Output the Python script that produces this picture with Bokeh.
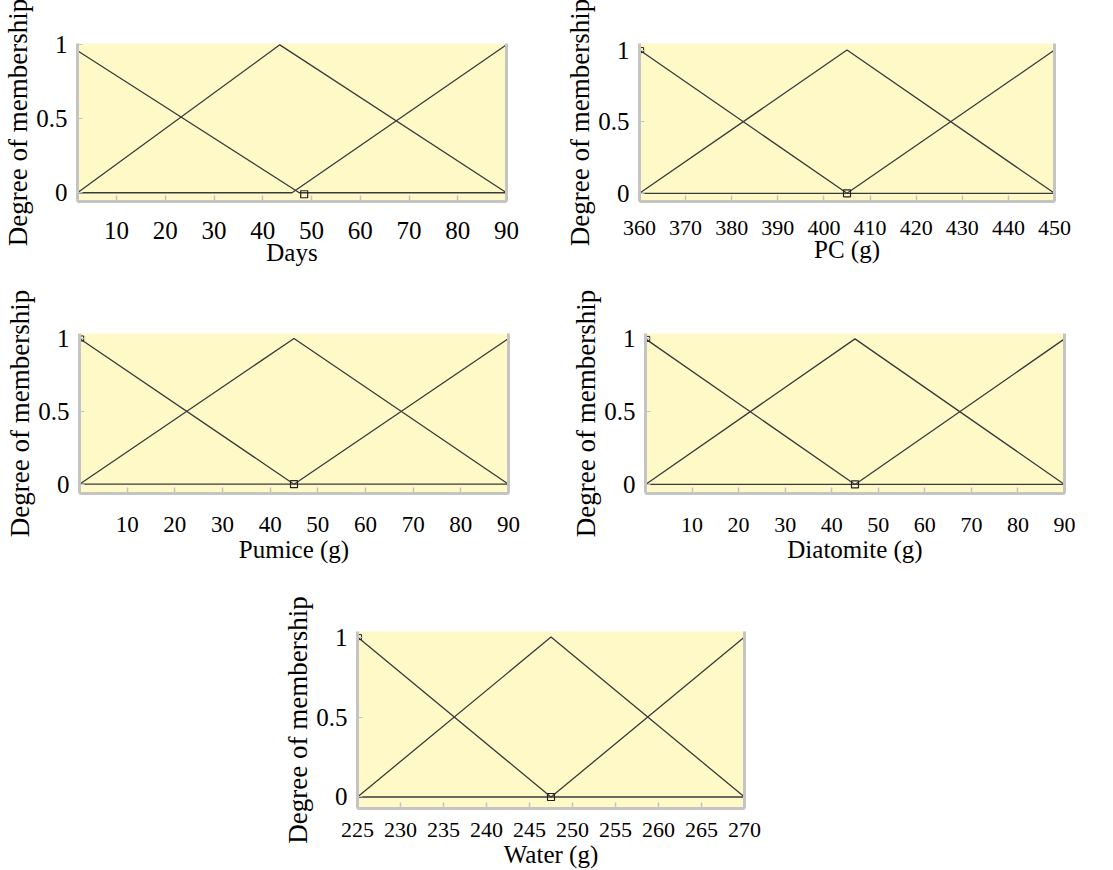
from bokeh.plotting import figure
from bokeh.models import Range1d, FixedTicker, LinearAxis, Spacer
from bokeh.layouts import column, row
from bokeh.embed import file_html
from bokeh.resources import INLINE

# ---------------- data ----------------
days_ticks = [10, 20, 30, 40, 50, 60, 70, 80, 90]
days_low_x = [2, 47.5, 90]
days_low_y = [0.96, 0, 0]
days_mid_x = [2, 43.5, 90]
days_mid_y = [0, 1, 0]
days_high_x = [2, 46, 90]
days_high_y = [0, 0, 1]
days_mark_x = [48.5]
days_mark_y = [-0.01]

pc_ticks = [360, 370, 380, 390, 400, 410, 420, 430, 440, 450]
pc_low_x = [360, 405, 450]
pc_low_y = [1, 0, 0]
pc_mid_x = [360, 405, 450]
pc_mid_y = [0, 1, 0]
pc_high_x = [360, 405, 450]
pc_high_y = [0, 0, 1]
pc_mark_x = [405]
pc_mark_y = [0]

pum_ticks = [10, 20, 30, 40, 50, 60, 70, 80, 90]
pum_low_x = [0, 45, 90]
pum_low_y = [1, 0, 0]
pum_mid_x = [0, 45, 90]
pum_mid_y = [0, 1, 0]
pum_high_x = [0, 45, 90]
pum_high_y = [0, 0, 1]
pum_mark_x = [45]
pum_mark_y = [0]

dia_ticks = [10, 20, 30, 40, 50, 60, 70, 80, 90]
dia_low_x = [0, 45, 90]
dia_low_y = [1, 0, 0]
dia_mid_x = [0, 45, 90]
dia_mid_y = [0, 1, 0]
dia_high_x = [0, 45, 90]
dia_high_y = [0, 0, 1]
dia_mark_x = [45]
dia_mark_y = [0]

wat_ticks = [225, 230, 235, 240, 245, 250, 255, 260, 265, 270]
wat_low_x = [225, 247.5, 270]
wat_low_y = [1, 0, 0]
wat_mid_x = [225, 247.5, 270]
wat_mid_y = [0, 1, 0]
wat_high_x = [225, 247.5, 270]
wat_high_y = [0, 0, 1]
wat_mark_x = [247.5]
wat_mark_y = [0]

y_ticks = [0, 0.5, 1]
y_labels = {0: "0", 0.5: "0.5", 1: "1"}

# ---------------- styling ----------------
FONT = "Liberation Serif"
BG = "#fff9c8"
GRAY = "#c4c4c4"
LINE = "#3a3a3a"


def make(xr, yr, xticks, xlabel, series, mark, corner, w, h, bl, br, bt, bb,
         xfs, xstand, xals, yals):
    p = figure(width=w, height=h, output_backend="svg", toolbar_location=None,
               x_range=Range1d(*xr), y_range=Range1d(*yr),
               min_border_left=bl, min_border_right=br,
               min_border_top=bt, min_border_bottom=bb)
    p.background_fill_color = BG
    p.border_fill_color = "white"
    p.outline_line_color = None
    p.grid.visible = False

    xa = p.xaxis[0]
    xa.ticker = FixedTicker(ticks=xticks)
    xa.axis_label = xlabel
    xa.axis_line_color = GRAY
    xa.axis_line_width = 3
    xa.major_tick_in = 6
    xa.major_tick_out = 0
    xa.major_tick_line_color = GRAY
    xa.major_tick_line_width = 1.5
    xa.minor_tick_line_color = None
    xa.major_label_text_font = FONT
    xa.major_label_text_font_size = f"{xfs}px"
    xa.major_label_text_color = "black"
    xa.major_label_standoff = xstand
    xa.axis_label_text_font = FONT
    xa.axis_label_text_font_size = "25px"
    xa.axis_label_text_font_style = "normal"
    xa.axis_label_text_color = "black"
    xa.axis_label_standoff = xals

    ya = p.yaxis[0]
    ya.ticker = FixedTicker(ticks=y_ticks)
    ya.major_label_overrides = y_labels
    ya.axis_label = "Degree of membership"
    ya.axis_line_color = GRAY
    ya.axis_line_width = 3
    ya.major_tick_in = 5
    ya.major_tick_out = 0
    ya.major_tick_line_color = GRAY
    ya.minor_tick_line_color = None
    ya.major_label_text_font = FONT
    ya.major_label_text_font_size = "25px"
    ya.major_label_text_color = "black"
    ya.major_label_standoff = 10
    ya.axis_label_text_font = FONT
    ya.axis_label_text_font_size = "27px"
    ya.axis_label_text_font_style = "normal"
    ya.axis_label_text_color = "black"
    ya.axis_label_standoff = yals

    ra = LinearAxis(ticker=FixedTicker(ticks=[]),
                    axis_line_color=GRAY, axis_line_width=3,
                    major_tick_in=0, major_tick_out=0, major_tick_line_color=None,
                    minor_tick_line_color=None, major_label_standoff=0)
    p.add_layout(ra, "right")

    for xs, ys in series:
        p.line(xs, ys, line_color=LINE, line_width=1.3)
    p.scatter(mark[0], mark[1], marker="square", size=7, fill_color=None,
              line_color="#222222", line_width=1.2)
    if corner:
        p.scatter([xr[0] + (xr[1] - xr[0]) * 0.004], [1], marker="square", size=5,
                  fill_color=None, line_color="#222222", line_width=1)
    return p


p1 = make((2, 90), (-0.059, 1.009), days_ticks, "Days",
          [(days_low_x, days_low_y), (days_mid_x, days_mid_y), (days_high_x, days_high_y)],
          (days_mark_x, days_mark_y), False,
          560, 273, 77, 54, 43, 72, 25, 20, -3, 0)
p2 = make((360, 450), (-0.057, 1.046), pc_ticks, "PC (g)",
          [(pc_low_x, pc_low_y), (pc_mid_x, pc_mid_y), (pc_high_x, pc_high_y)],
          (pc_mark_x, pc_mark_y), True,
          545, 273, 79, 51, 41, 72, 22, 19, -2, 0)
p3 = make((0, 90), (-0.064, 1.034), pum_ticks, "Pumice (g)",
          [(pum_low_x, pum_low_y), (pum_mid_x, pum_mid_y), (pum_high_x, pum_high_y)],
          (pum_mark_x, pum_mark_y), True,
          560, 292, 79, 52, 60, 72, 23, 23, 1, 0)
p4 = make((0, 90), (-0.062, 1.037), dia_ticks, "Diatomite (g)",
          [(dia_low_x, dia_low_y), (dia_mid_x, dia_mid_y), (dia_high_x, dia_high_y)],
          (dia_mark_x, dia_mark_y), True,
          545, 292, 85, 41, 59, 72, 22, 24, 1, 0)
p5 = make((225, 270), (-0.072, 1.035), wat_ticks, "Water (g)",
          [(wat_low_x, wat_low_y), (wat_mid_x, wat_mid_y), (wat_high_x, wat_high_y)],
          (wat_mark_x, wat_mark_y), True,
          507, 305, 80, 40, 66, 61, 22, 14, 1, 0)

layout = column(row(p1, p2), row(p3, p4), row(Spacer(width=277, height=10), p5))

open("out.html", "w").write(file_html(layout, INLINE))
